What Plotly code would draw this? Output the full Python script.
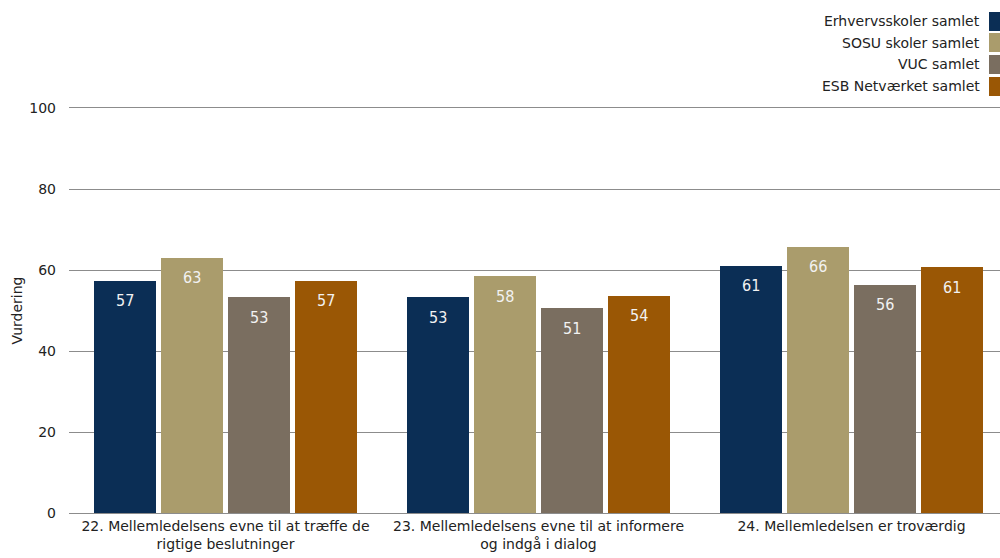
import plotly.graph_objects as go

categories = [
    "22. Mellemledelsens evne til at træffe de<br>rigtige beslutninger",
    "23. Mellemledelsens evne til at informere<br>og indgå i dialog",
    "24. Mellemledelsen er troværdig",
]
series_names = ["Erhvervsskoler samlet", "SOSU skoler samlet", "VUC samlet", "ESB Netværket samlet"]
series_values = [
    [57.4, 53.3, 61.0],
    [63.0, 58.4, 65.7],
    [53.3, 50.6, 56.3],
    [57.4, 53.6, 60.7],
]
series_labels = [
    [57, 53, 61],
    [63, 58, 66],
    [53, 51, 56],
    [57, 54, 61],
]
colors = ["#0B2E55", "#AA9C6C", "#7A6E60", "#9A5705"]

FONT = "'DejaVu Sans', Verdana, sans-serif"
LABEL_FONT = "'DejaVu Sans Condensed', 'DejaVu Sans', sans-serif"

W, H = 1000, 558
ml, mr, mt, mb = 69, 0, 108, 45
pw, ph = W - ml - mr, H - mt - mb

slot = 67 / 313
barw = 62 / 313

def px_x(x):
    return (x - ml) / pw

def px_y(y):
    return (H - y - mb) / ph

fig = go.Figure()
annotations = []
for j, (name, vals, labs, col) in enumerate(zip(series_names, series_values, series_labels, colors)):
    xs = [i + (j - 1.5) * slot for i in range(len(categories))]
    fig.add_trace(go.Bar(x=xs, y=vals, width=barw, marker=dict(color=col, line=dict(width=0)),
                         name=name, showlegend=False, hoverinfo="y"))
    for x, v, l in zip(xs, vals, labs):
        annotations.append(dict(x=x, y=v, xref="x", yref="y", text=str(l), showarrow=False,
                                yshift=-20, font=dict(family=LABEL_FONT, size=16, color="#F2F2F2")))

# manual legend (symbols to the right of the text)
for k, (name, col) in enumerate(zip(series_names, colors)):
    yc = 21 + k * 21.7
    annotations.append(dict(x=px_x(982), y=px_y(yc), xref="paper", yref="paper", text=name,
                            showarrow=False, xanchor="right", yanchor="middle",
                            font=dict(family=FONT, size=14, color="#222222")))
    annotations.append(dict(x=px_x(989), y=px_y(yc), xref="paper", yref="paper", text=" ",
                            showarrow=False, xanchor="left", yanchor="middle",
                            width=14, height=19, bgcolor=col, borderpad=0, borderwidth=0,
                            font=dict(size=1)))

fig.update_layout(
    width=W, height=H,
    margin=dict(l=ml, r=mr, t=mt, b=mb, autoexpand=False),
    paper_bgcolor="white", plot_bgcolor="white",
    font=dict(family=FONT, size=14, color="#222222"),
    barmode="overlay", bargap=0, showlegend=False,
    annotations=annotations,
    xaxis=dict(range=[-0.5, -0.5 + pw / 313], tickvals=[0, 1, 2], ticktext=categories,
               showgrid=False, zeroline=False, showline=True, mirror=True,
               linecolor="#8C8C8C", linewidth=1, ticks="", automargin=False,
               tickfont=dict(size=14, color="#222222")),
    yaxis=dict(range=[0, 100], tickvals=[0, 20, 40, 60, 80, 100], showgrid=True,
               gridcolor="#8C8C8C", gridwidth=1, zeroline=False, showline=False, ticks="",
               ticklabelstandoff=12, automargin=False,
               title=dict(text="Vurdering", font=dict(size=14, color="#222222"), standoff=3),
               tickfont=dict(size=14, color="#222222")),
)

fig.write_html(
    "out.html",
    config={"displayModeBar": False},
    post_script="document.body.style.margin='0';document.documentElement.style.overflow='hidden';",
)
